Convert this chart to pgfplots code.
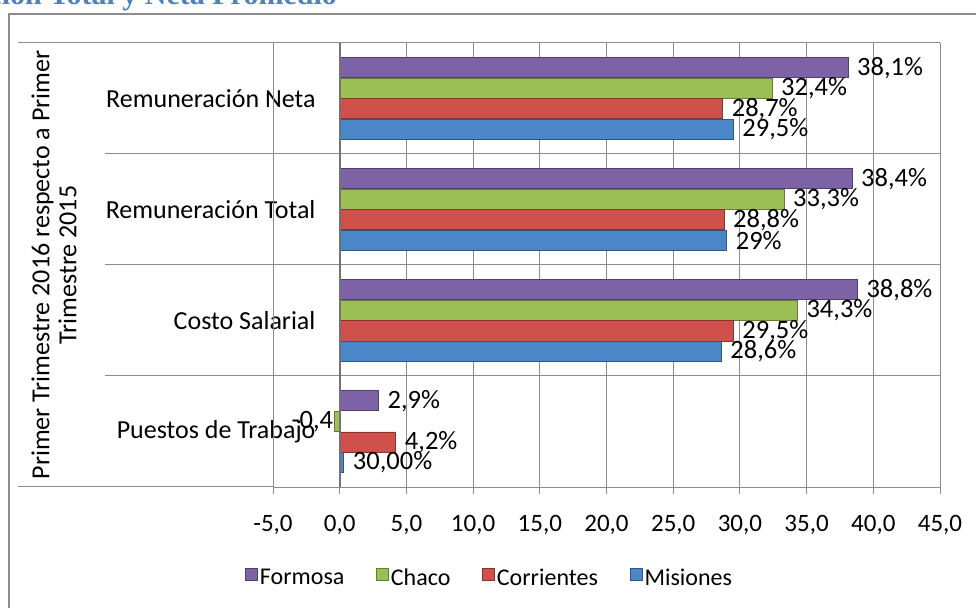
\documentclass[border=0pt]{standalone}
\usepackage{pgfplots}
\pgfplotsset{compat=1.18}
\usepackage{pgfplotstable}
\usepackage{fontspec}
\setmainfont{Carlito}
\newfontfamily\titlefont{Liberation Serif}
\definecolor{cpurple}{HTML}{7E62A6}
\definecolor{cgreen}{HTML}{9BBE55}
\definecolor{cred}{HTML}{D0504C}
\definecolor{cblue}{HTML}{4A86C8}
\definecolor{ctitle}{HTML}{4F81BD}
\definecolor{lgray}{HTML}{8C8C8C}

% cat: 3 = Remuneracion Neta ... 0 = Puestos de Trabajo
\pgfplotstableread{
cat val lab
3 38.1 38,1\%
2 38.4 38,4\%
1 38.8 38,8\%
0 2.9 2,9\%
}\formosa
\pgfplotstableread{
cat val lab
3 32.4 32,4\%
2 33.3 33,3\%
1 34.3 34,3\%
}\chaco
% the one negative value, labelled on the left of its bar
\pgfplotstableread{
cat val lab
0 -0.4 -0,4
}\chaconeg
\pgfplotstableread{
cat val lab
3 28.7 28,7\%
2 28.8 28,8\%
1 29.5 29,5\%
0 4.2 4,2\%
}\corrientes
\pgfplotstableread{
cat val lab
3 29.5 29,5\%
2 29.0 29\%
1 28.6 28,6\%
0 0.3 30,00\%
}\misiones

\tikzset{
 barsty/.style={fill=#1,draw=#1!65!black,line width=0.5pt}
}

\begin{document}
\begin{tikzpicture}[x=1pt,y=1pt]
\useasboundingbox (0,0) rectangle (976,607);
\begin{scope}
\clip (0,0) rectangle (976,607);
\node[anchor=base east,text=ctitle,font=\titlefont\bfseries\fontsize{30}{34}\selectfont,inner sep=0pt]
  at (337,602) {Remuneración Total y Neta Promedio};
\draw[black!45,line width=1.6pt] (9,-10) -- (9,593) -- (990,593);
\end{scope}

\begin{axis}[
 scale only axis,width=667pt,height=444pt,
 at={(273pt,120pt)},anchor=south west,
 xbar,bar width=20pt,
 xmin=-5,xmax=45,xtick={-5,0,...,45},
 ymin=-0.5,ymax=3.5,ytick={0,1,2,3},
 yticklabels={Puestos de Trabajo,Costo Salarial,Remuneración Total,Remuneración Neta},
 ytick style={draw=none},
 yticklabel style={anchor=east,xshift=53pt,font=\fontsize{26}{30}\selectfont},
 xticklabel style={font=\fontsize{25}{30}\selectfont,yshift=-18pt},
 xtick pos=bottom,tick align=outside,major tick length=7pt,
 xtick style={lgray,line width=1pt},
 /pgf/number format/.cd,fixed,fixed zerofill,precision=1,use comma,assume math mode=true,
 /pgfplots/.cd,
 xmajorgrids,major grid style={lgray,line width=1pt},
 axis line style={lgray,line width=1pt},
 axis x line*=bottom,axis y line*=left,y axis line style={draw=none},
 point meta=explicit symbolic,
 nodes near coords,
 every node near coord/.append style={font=\fontsize{26.5}{30}\selectfont,black,anchor=west,inner xsep=9pt},
 clip=false,
 legend columns=4,
 legend style={at={(0.325,-0.205)},anchor=center,draw=none,fill=none,
   font=\fontsize{24}{28}\selectfont,
   /tikz/every even column/.append style={column sep=30pt}},
 legend image code/.code={\fill[#1] (0pt,-2pt) rectangle (12pt,10pt);},
]
\addplot[barsty=cpurple,bar shift=30.75pt] table[x=val,y=cat,meta=lab] {\formosa};
\addplot[barsty=cgreen,bar shift=10.25pt] table[x=val,y=cat,meta=lab] {\chaco};
\addplot[barsty=cred,bar shift=-10.25pt] table[x=val,y=cat,meta=lab] {\corrientes};
\addplot[barsty=cblue,bar shift=-30.75pt] table[x=val,y=cat,meta=lab] {\misiones};
\addplot[barsty=cgreen,bar shift=10.25pt,forget plot,
  every node near coord/.append style={anchor=east,inner xsep=1pt}]
  table[x=val,y=cat,meta=lab] {\chaconeg};
\legend{Formosa,Chaco,Corrientes,Misiones}
\end{axis}

% category frame lines
\draw[lgray,line width=1pt] (18,564) -- (940,564);
\draw[lgray,line width=1pt] (18,120) -- (273,120);
\foreach \yy in {231,342,453} \draw[lgray,line width=1pt] (105,\yy) -- (940,\yy);
\draw[lgray,line width=1pt] (273,120) -- (273,564);
\draw[black!55,line width=1.2pt] (340,120) -- (340,564);

\node[rotate=90,align=center,font=\fontsize{26}{27}\selectfont] at (54,342)
  {Primer Trimestre 2016 respecto a Primer\\Trimestre 2015};
\end{tikzpicture}
\end{document}
